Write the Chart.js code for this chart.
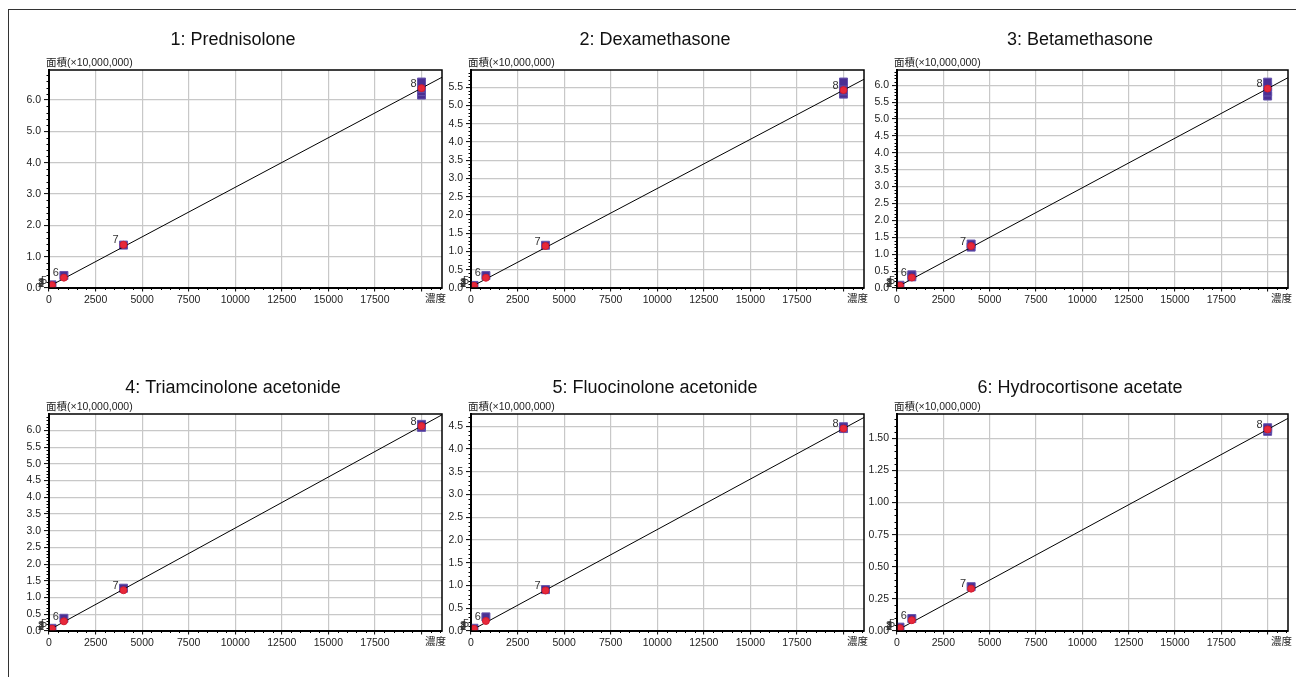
<!DOCTYPE html>
<html>
<head>
<meta charset="utf-8">
<script src="https://cdn.jsdelivr.net/npm/chart.js@4.4.1/dist/chart.umd.min.js"></script>
<style>
  html, body { margin: 0; padding: 0; background: #fff; }
  body { width: 1296px; height: 677px; position: relative; overflow: hidden; }
  #frame { position: absolute; left: 8px; top: 9px; width: 1400px; height: 800px;
           border-left: 1px solid #333; border-top: 1px solid #333; }
  canvas { position: absolute; }
</style>
</head>
<body>
<div id="frame"></div>

<script>
// calibration levels (concentration)
const conc = [0.256, 1.28, 6.4, 32, 160, 800, 4000, 20000];

const titles = [
  "1: Prednisolone",
  "2: Dexamethasone",
  "3: Betamethasone",
  "4: Triamcinolone acetonide",
  "5: Fluocinolone acetonide",
  "6: Hydrocortisone acetate"
];

// mean area per level (x10,000,000) - red dots
const meanP1 = [0, 0, 0.002, 0.012, 0.09, 0.33, 1.38, 6.38];
const meanP2 = [0, 0, 0.002, 0.01, 0.06, 0.28, 1.15, 5.42];
const meanP3 = [0, 0, 0.002, 0.01, 0.07, 0.31, 1.24, 5.90];
const meanP4 = [0, 0, 0.002, 0.01, 0.07, 0.29, 1.22, 6.13];
const meanP5 = [0, 0, 0.001, 0.007, 0.05, 0.22, 0.89, 4.45];
const meanP6 = [0, 0, 0.0005, 0.003, 0.022, 0.084, 0.33, 1.57];

// individual injections per level - blue squares
const repP1 = [[0], [0.003], [0.004], [0.015], [0.10], [0.40], [1.37], [6.16, 6.27, 6.38, 6.48, 6.575]];
const repP2 = [[0], [0.003], [0.004], [0.012], [0.07], [0.34], [1.17], [5.31, 5.40, 5.50, 5.64]];
const repP3 = [[0], [0.003], [0.004], [0.012], [0.08], [0.33, 0.39], [1.21, 1.30], [5.68, 5.80, 5.95, 6.09]];
const repP4 = [[0], [0.003], [0.004], [0.012], [0.08], [0.38], [1.28], [6.09, 6.14, 6.18]];
const repP5 = [[0], [0.002], [0.003], [0.009], [0.06], [0.31], [0.91], [4.45, 4.47, 4.49]];
const repP6 = [[0], [0.001], [0.001], [0.004], [0.03], [0.097], [0.345], [1.555, 1.57, 1.583]];

// calibration line y = slope * x + intercept
const fitSlope = [3.165e-4, 2.695e-4, 2.935e-4, 3.05e-4, 2.22e-4, 7.825e-5];
const fitIntercept = [0.05, 0.03, 0.03, 0.03, 0.01, 0.005];

// axes
const xMax = 21100;
const xTicks = [0, 2500, 5000, 7500, 10000, 12500, 15000, 17500, 20000];
const xLastTick = 20000;
const yMax = [6.96, 5.97, 6.45, 6.49, 4.77, 1.69];
const yStep = [1, 0.5, 0.5, 0.5, 0.5, 0.25];
const yDecimals = [1, 1, 1, 1, 1, 2];

const means = [meanP1, meanP2, meanP3, meanP4, meanP5, meanP6];
const reps = [repP1, repP2, repP3, repP4, repP5, repP6];

// layout of plot areas on the page
const plotLeft = [49, 471, 897];
const plotRight = [442, 864, 1288];
const plotTop = [70, 414];
const plotBottom = [288, 631];
const titleBase = [25, 21];

const FONT = '"Liberation Sans", Arial, "Noto Sans CJK JP", sans-serif';
const CW = 470, CH = 340, OFF_L = 48, OFF_T = 66, Y_W = 40, X_H = 24;

function makePanel(i) {
  const col = i % 3, row = Math.floor(i / 3);
  const pl = plotLeft[col], pr = plotRight[col], pt = plotTop[row], pb = plotBottom[row];

  const canvas = document.createElement("canvas");
  canvas.width = CW;
  canvas.height = CH;
  canvas.style.left = (pl - OFF_L) + "px";
  canvas.style.top = (pt - OFF_T) + "px";
  canvas.style.width = CW + "px";
  canvas.style.height = CH + "px";
  document.body.appendChild(canvas);

  const meanPts = conc.map((c, k) => ({ x: c, y: means[i][k] }));
  const repPts = [];
  conc.forEach((c, k) => reps[i][k].forEach((v) => repPts.push({ x: c, y: v })));
  const linePts = [0, xMax].map((x) => ({ x: x, y: fitSlope[i] * x + fitIntercept[i] }));

  const decor = {
    id: "decor",
    afterDatasetsDraw(chart) {
      const ctx = chart.ctx;
      const meta = chart.getDatasetMeta(0);
      ctx.save();
      ctx.font = "11px " + FONT;
      ctx.fillStyle = "#333";
      ctx.textAlign = "center";
      ctx.textBaseline = "middle";
      meta.data.forEach((pt, k) => {
        ctx.fillText(String(k + 1), pt.x - 8, pt.y - 4.5);
      });
      ctx.restore();
    },
    afterDraw(chart) {
      const ctx = chart.ctx;
      const a = chart.chartArea;
      const xs = chart.scales.x, ys = chart.scales.y;
      ctx.save();
      // frame
      ctx.strokeStyle = "#000";
      ctx.lineWidth = 1.5;
      ctx.strokeRect(a.left, a.top, a.right - a.left, a.bottom - a.top);

      // minor ticks
      ctx.lineWidth = 1;
      ctx.beginPath();
      const xMinor = (xTicks[1] - xTicks[0]) / 5;
      for (let k = 1; k * xMinor <= xMax; k++) {
        if (k % 5 === 0) continue;
        const px = Math.round(xs.getPixelForValue(k * xMinor)) + 0.5;
        ctx.moveTo(px, a.bottom);
        ctx.lineTo(px, a.bottom + 2);
      }
      const yMinor = yStep[i] / 5;
      for (let k = 1; k * yMinor <= yMax[i]; k++) {
        if (k % 5 === 0) continue;
        const py = Math.round(ys.getPixelForValue(k * yMinor)) + 0.5;
        ctx.moveTo(a.left, py);
        ctx.lineTo(a.left - 2.5, py);
      }
      ctx.stroke();

      // title
      ctx.fillStyle = "#111";
      ctx.font = "18px " + FONT;
      ctx.textAlign = "center";
      ctx.textBaseline = "alphabetic";
      ctx.fillText(titles[i], (a.left + a.right) / 2 - 12.5, a.top - titleBase[row]);

      // axis names
      ctx.fillStyle = "#222";
      ctx.font = "10.5px " + FONT;
      ctx.textAlign = "left";
      ctx.fillText("面積(×10,000,000)", a.left - 3, a.top - 4);
      ctx.textAlign = "center";
      ctx.textBaseline = "top";
      ctx.fillText("濃度", xs.getPixelForValue(xLastTick) + 14, a.bottom + 5.5);
      ctx.restore();
    }
  };

  new Chart(canvas, {
    type: "scatter",
    data: {
      datasets: [
        {
          data: meanPts,
          pointStyle: "circle",
          pointRadius: 3.5,
          pointBackgroundColor: "#e8283a",
          pointBorderColor: "#d01c30",
          pointBorderWidth: 1,
          order: 0
        },
        {
          type: "line",
          data: linePts,
          borderColor: "#000",
          borderWidth: 1,
          pointRadius: 0,
          fill: false,
          order: 1
        },
        {
          data: repPts,
          pointStyle: "rect",
          pointRadius: 5.66,
          pointBackgroundColor: "#4b2f93",
          pointBorderColor: "#6655ad",
          pointBorderWidth: 1,
          order: 2
        }
      ]
    },
    options: {
      responsive: false,
      animation: false,
      devicePixelRatio: 1,
      layout: {
        padding: {
          left: OFF_L - Y_W,
          top: OFF_T,
          right: CW - OFF_L - (pr - pl),
          bottom: CH - OFF_T - (pb - pt) - X_H
        }
      },
      plugins: {
        legend: { display: false },
        tooltip: { enabled: false },
        title: { display: false }
      },
      scales: {
        x: {
          type: "linear",
          min: 0,
          max: xMax,
          afterFit: (s) => { s.height = X_H; },
          afterBuildTicks: (s) => { s.ticks = xTicks.map((v) => ({ value: v })); },
          grid: { color: "#c8c8c8", lineWidth: 1.2, tickColor: "#000", tickLength: 3.5, tickWidth: 1 },
          border: { display: true, color: "#000", width: 2 },
          ticks: {
            autoSkip: false,
            maxRotation: 0,
            padding: 2,
            color: "#222",
            font: { family: FONT, size: 10.5 },
            callback: (v) => (v === xLastTick ? "" : String(v))
          }
        },
        y: {
          type: "linear",
          min: 0,
          max: yMax[i],
          afterFit: (s) => { s.width = Y_W; },
          grid: { color: "#c8c8c8", lineWidth: 1.2, tickColor: "#000", tickLength: 5, tickWidth: 1 },
          border: { display: true, color: "#000", width: 2 },
          ticks: {
            stepSize: yStep[i],
            includeBounds: false,
            autoSkip: false,
            padding: 3,
            color: "#222",
            font: { family: FONT, size: 10.5 },
            callback: (v) => Number(v).toFixed(yDecimals[i])
          }
        }
      }
    },
    plugins: [decor]
  });
}

for (let i = 0; i < 6; i++) makePanel(i);
</script>
</body>
</html>
